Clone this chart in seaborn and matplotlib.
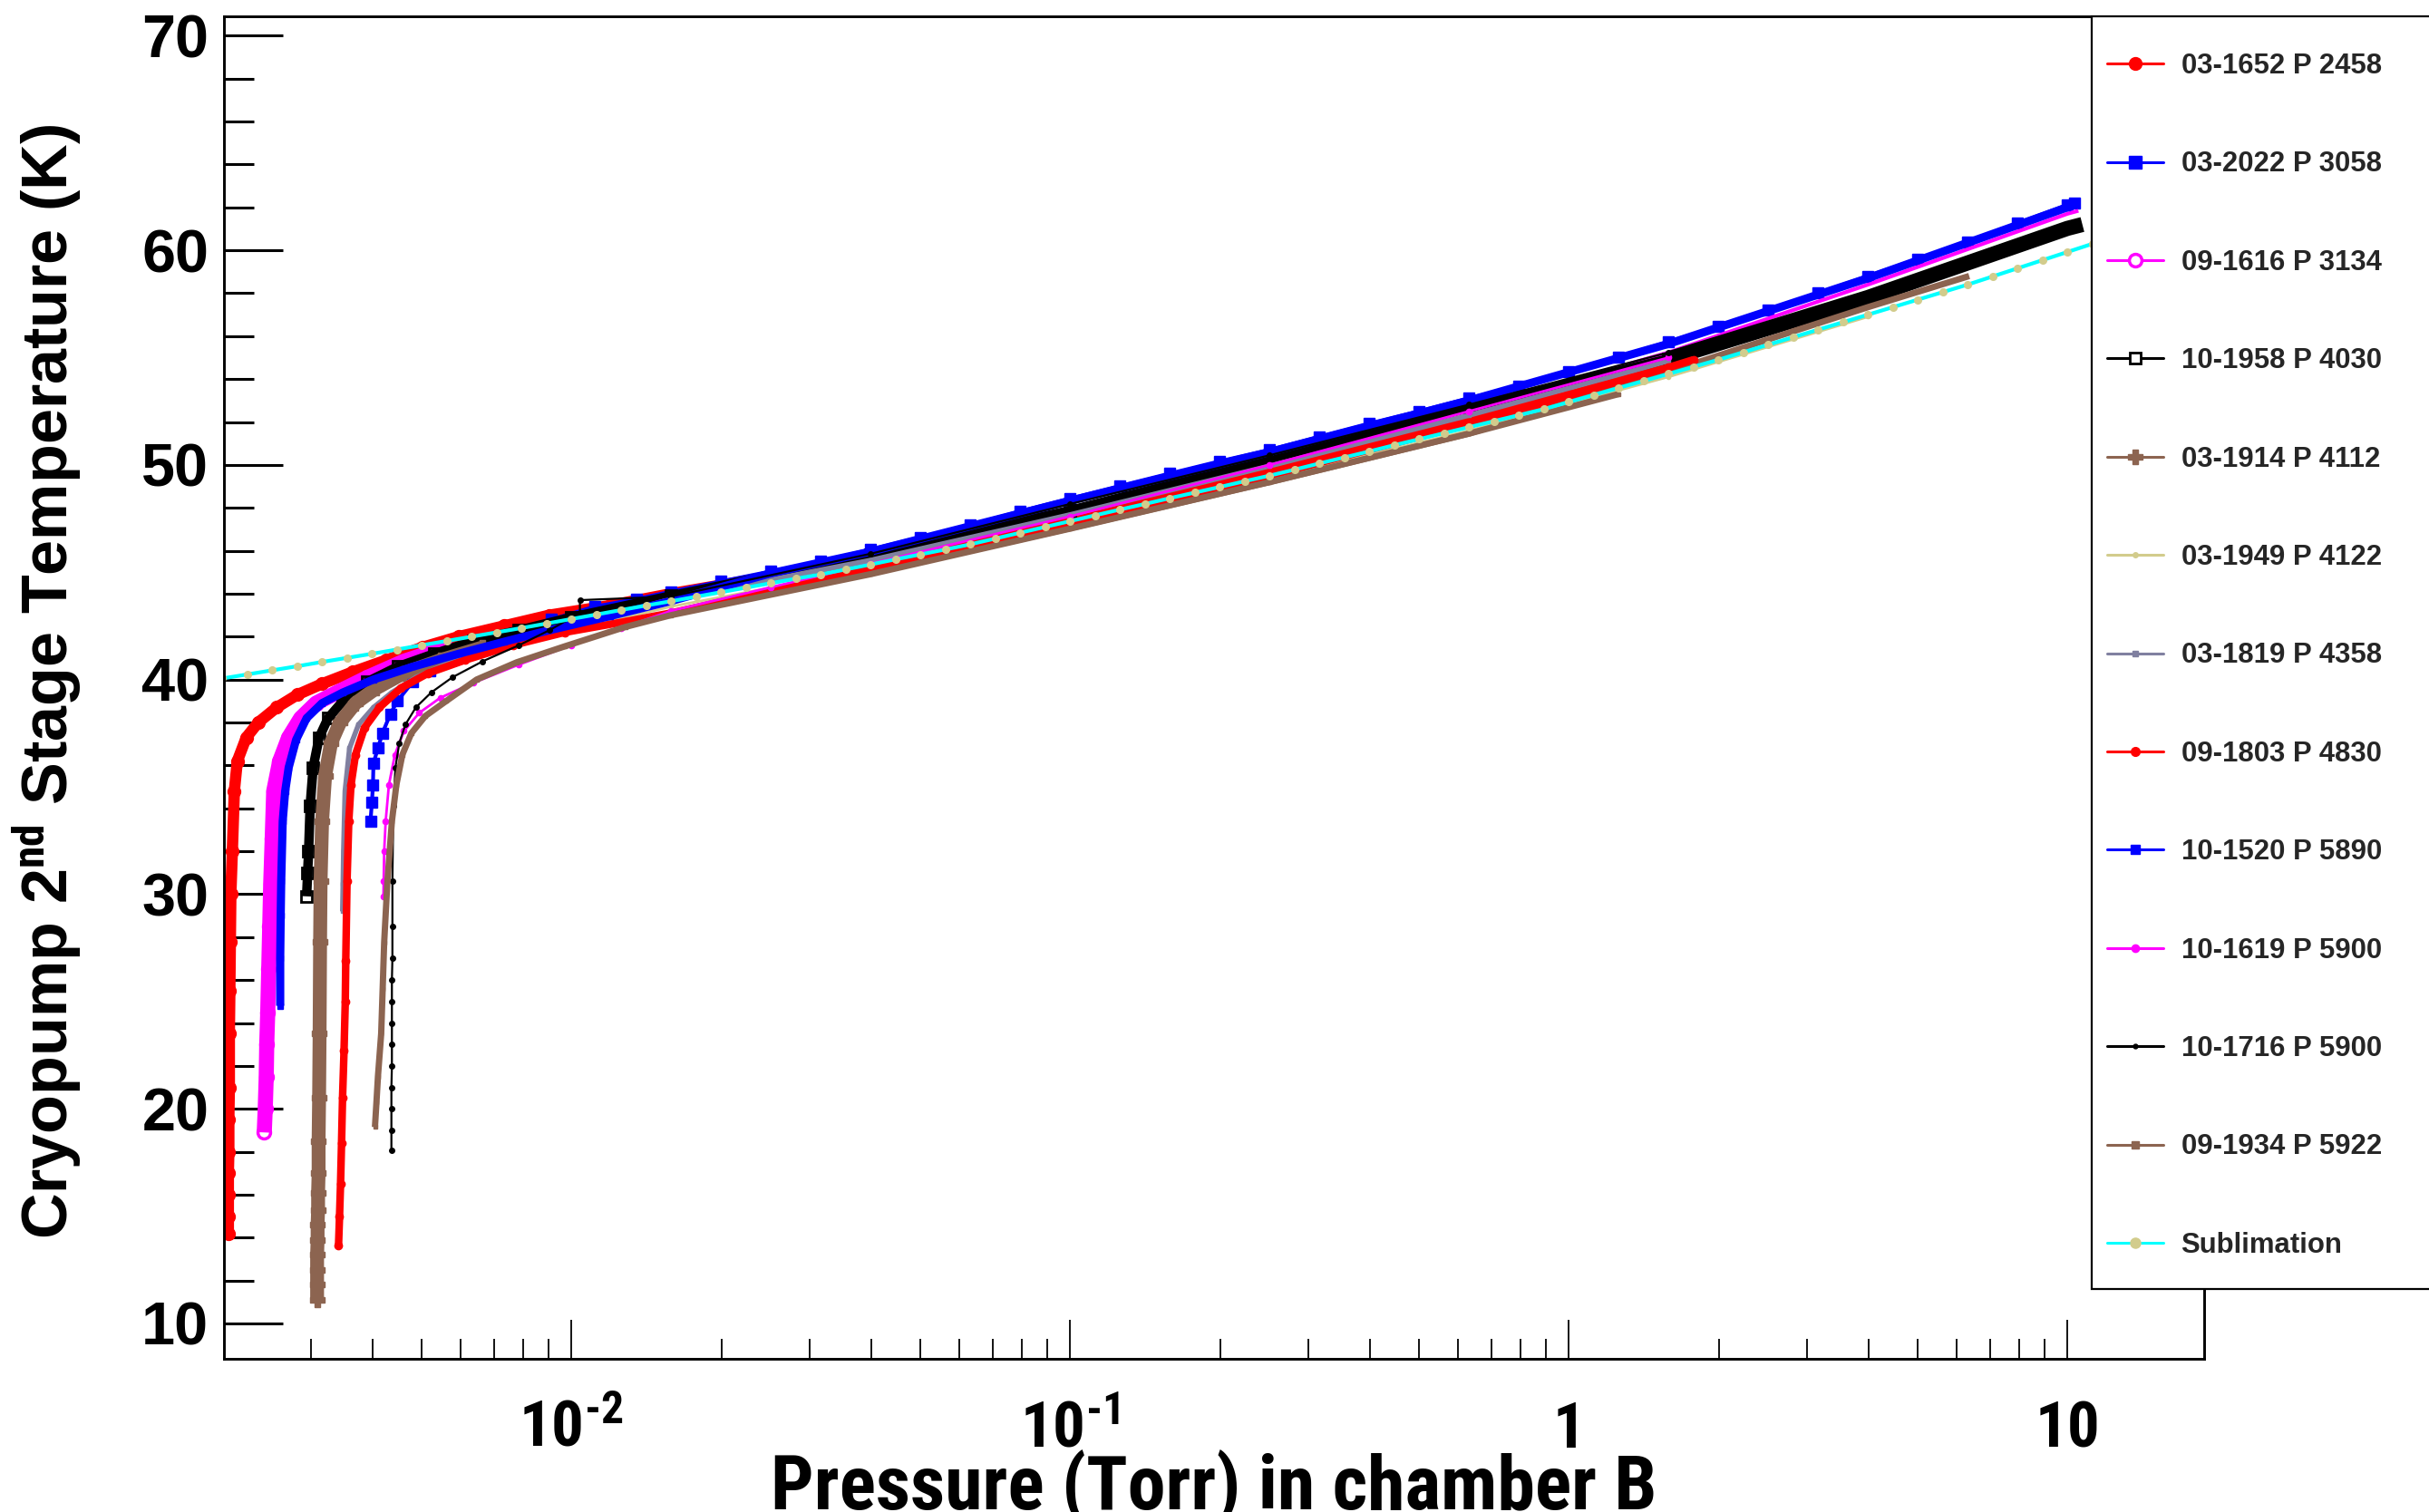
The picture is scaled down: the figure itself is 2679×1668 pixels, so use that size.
import numpy as np
import pandas as pd
import matplotlib
matplotlib.use("Agg")
import matplotlib.pyplot as plt
import seaborn as sns
from matplotlib import font_manager
from matplotlib.font_manager import FontProperties
from matplotlib.lines import Line2D
from matplotlib.patches import Rectangle
from matplotlib.ticker import FixedLocator, FixedFormatter, LogLocator, MultipleLocator, NullFormatter

# ------------------------------------------------------------------ data
# pressure is stored as log10(P / Torr); temperature in K
LABELS = ["03-1652 P 2458", "03-2022 P 3058", "09-1616 P 3134", "10-1958 P 4030",
          "03-1914 P 4112", "03-1949 P 4122", "03-1819 P 4358", "09-1803 P 4830",
          "10-1520 P 5890", "10-1619 P 5900", "10-1716 P 5900", "09-1934 P 5922",
          "Sublimation"]

LOGP_03_1652 = [-2.688, -2.688, -2.688, -2.688, -2.687, -2.687, -2.686, -2.686, -2.685, -2.684,
                -2.683, -2.680, -2.676, -2.670, -2.652, -2.628, -2.591, -2.549, -2.500, -2.439,
                -2.372, -2.299, -2.226, -2.135, -2.044, -1.922, -1.800, -1.6, -1.4, -1.2,
                -1.0, -0.8, -0.6, -0.4, -0.2, 0.0, 0.2]
T_03_1652 = [14.2, 15.0, 16.0, 17.0, 18.0, 19.5, 21.0, 23.5, 25.5, 27.8,
             30.0, 32.0, 34.8, 36.2, 37.3, 38.0, 38.7, 39.3, 39.8, 40.35,
             40.9, 41.5, 42.0, 42.5, 43.0, 43.45, 44.0, 44.8, 45.66, 46.6,
             47.68, 48.75, 49.8, 50.93, 52.0, 53.2, 54.5]

LOGP_03_2022 = [-2.403, -2.400, -2.398, -2.397, -2.388, -2.379, -2.363, -2.349, -2.318, -2.284,
                -2.242, -2.175, -2.123, -2.040, -1.953, -1.870, -1.800, -1.7, -1.6, -1.5,
                -1.4, -1.3, -1.2, -1.1, -1.0, -0.9, -0.8, -0.7, -0.6, -0.5,
                -0.4, -0.3, -0.2, -0.1, 0.0, 0.1, 0.2, 0.3, 0.4, 0.5,
                0.6, 0.7, 0.8, 0.9, 1.0, 1.015]
T_03_2022 = [33.4, 34.3, 35.1, 36.1, 36.8, 37.5, 38.4, 39.0, 39.9, 40.4,
             40.9, 41.5, 42.0, 42.8, 43.4, 43.75, 44.1, 44.57, 45.04, 45.5,
             46.06, 46.63, 47.2, 47.84, 48.43, 49.02, 49.6, 50.17, 50.7, 51.32,
             51.93, 52.5, 53.11, 53.67, 54.33, 55.04, 55.74, 56.45, 57.2, 58.0,
             58.8, 59.6, 60.4, 61.26, 62.12, 62.2]

LOGP_09_1616 = [-2.616, -2.614, -2.612, -2.611, -2.609, -2.607, -2.605, -2.603, -2.600, -2.597,
                -2.585, -2.567, -2.543, -2.512, -2.470, -2.409, -2.336, -2.251, -2.150, -2.000,
                -1.8, -1.4, -1.0, -0.6, -0.2, 0.2, 0.6, 1.0, 1.022]
T_09_1616 = [18.9, 20.0, 21.5, 23.0, 24.5, 26.5, 28.5, 30.5, 32.6, 34.8,
             36.2, 37.3, 38.2, 38.9, 39.4, 40.1, 40.85, 41.5, 42.15, 42.9,
             43.85, 45.66, 47.78, 50.1, 52.56, 55.24, 58.4, 61.7, 61.84]

LOGP_10_1958 = [-2.531, -2.529, -2.527, -2.524, -2.518, -2.506, -2.488, -2.458, -2.409, -2.348,
                -2.275, -2.196, -2.105, -2.000, -1.8, -1.4, -1.0, -0.6, -0.2, 0.2,
                0.6, 1.0, 1.030]
T_10_1958 = [29.9, 31.0, 32.0, 34.1, 35.9, 37.3, 38.2, 39.0, 39.9, 40.6,
             41.2, 41.8, 42.3, 42.9, 43.9, 45.81, 47.88, 50.25, 52.66, 54.94,
             57.8, 61.02, 61.2]

LOGP_03_1914 = [-2.510, -2.510, -2.510, -2.510, -2.509, -2.509, -2.508, -2.508, -2.507, -2.507,
                -2.506, -2.505, -2.504, -2.503, -2.500, -2.494, -2.482, -2.464, -2.433, -2.391,
                -2.336, -2.263, -2.178, -2.050, -1.8, -1.4, -1.0, -0.6, -0.2, 0.2,
                0.6, 0.803]
T_03_1914 = [11.1, 11.8, 12.5, 13.2, 13.9, 14.6, 15.3, 16.1, 17.0, 18.5,
             20.5, 23.5, 27.8, 30.6, 33.4, 35.5, 37.05, 38.0, 38.9, 39.6,
             40.3, 40.9, 41.5, 42.1, 43.05, 44.96, 47.05, 49.2, 51.46, 54.34,
             57.35, 58.8]

LOGP_03_1949 = [-2.450, -2.447, -2.442, -2.433, -2.415, -2.385, -2.342, -2.287, -2.214, -2.117,
                -2.0, -1.8, -1.4, -1.0, -0.6, -0.2, 0.2, 0.6]
T_03_1949 = [30.6, 33.4, 35.1, 36.5, 37.75, 38.7, 39.6, 40.3, 40.9, 41.6,
             42.3, 43.4, 45.16, 47.2, 49.35, 51.6, 54.1, 56.9]

LOGP_03_1819 = [-2.459, -2.458, -2.457, -2.454, -2.445, -2.427, -2.397, -2.360, -2.312, -2.239,
                -2.147, -2.044, -1.9, -1.8, -1.4, -1.0, -0.6, -0.2, 0.2]
T_03_1819 = [29.2, 30.5, 32.0, 34.8, 36.8, 37.9, 38.7, 39.4, 40.1, 40.85,
             41.5, 42.3, 43.1, 43.75, 45.56, 47.68, 49.95, 52.31, 54.84]

LOGP_09_1803 = [-2.467, -2.465, -2.463, -2.461, -2.459, -2.456, -2.4535, -2.4525, -2.450, -2.4465,
                -2.442, -2.433, -2.415, -2.385, -2.342, -2.287, -2.214, -2.117, -2.013, -1.892,
                -1.8, -1.4, -1.0, -0.6, -0.2, 0.2, 0.25]
T_09_1803 = [13.65, 15.0, 16.5, 18.4, 20.5, 22.7, 25.0, 26.9, 30.6, 33.4,
             35.1, 36.5, 37.75, 38.7, 39.6, 40.3, 40.9, 41.6, 42.2, 42.7,
             43.1, 45.16, 47.28, 49.5, 51.91, 54.54, 54.9]

LOGP_10_1520 = [-2.584, -2.584, -2.583, -2.582, -2.579, -2.574, -2.567, -2.552, -2.531, -2.500,
                -2.458, -2.397, -2.318, -2.226, -2.135, -2.044, -1.922, -1.8, -1.6, -1.4,
                -1.0, -0.6, -0.2, 0.2, 0.6, 1.0]
T_10_1520 = [24.8, 27.0, 29.0, 30.6, 33.4, 34.8, 35.9, 37.2, 38.2, 38.9,
             39.4, 40.0, 40.6, 41.2, 41.76, 42.3, 42.96, 43.66, 44.95, 45.96,
             48.33, 50.6, 53.0, 55.64, 58.7, 62.0]

LOGP_10_1619 = [-2.377, -2.3765, -2.3755, -2.3725, -2.366, -2.354, -2.336, -2.305, -2.263, -2.196,
                -2.105, -2.0, -1.9, -1.8, -1.6, -1.4, -1.0, -0.6, -0.2, 0.2]
T_10_1619 = [29.9, 30.6, 32.0, 33.4, 35.1, 36.5, 37.6, 38.45, 39.15, 39.85,
             40.7, 41.6, 42.4, 43.2, 44.3, 45.4, 47.6, 50.0, 52.5, 55.0]

LOGP_10_1716 = [-2.361, -2.361, -2.361, -2.361, -2.360, -2.360, -2.360, -2.360, -2.360, -2.359,
                -2.359, -2.359, -2.357, -2.353, -2.345, -2.333, -2.312, -2.281, -2.239, -2.178,
                -2.105, -2.044, -1.983, -1.983, -1.8, -1.4, -1.0, -0.6, -0.2, 0.2,
                0.6, 1.0]
T_10_1716 = [18.05, 19.0, 20.0, 21.0, 22.0, 23.0, 24.0, 25.0, 26.0, 27.0,
             28.5, 30.6, 34.1, 35.9, 37.05, 37.9, 38.7, 39.4, 40.1, 40.85,
             41.6, 42.3, 43.1, 43.7, 43.87, 45.86, 48.18, 50.45, 52.81, 55.24,
             57.9, 60.95]

LOGP_09_1934 = [-2.394, -2.391, -2.388, -2.3815, -2.3785, -2.3755, -2.369, -2.360, -2.351, -2.339,
                -2.321, -2.293, -2.251, -2.190, -2.110, -2.013, -1.892, -1.8, -1.4, -1.0,
                -0.6, -0.2, 0.1]
T_09_1934 = [19.15, 20.3, 21.5, 23.5, 25.6, 27.75, 30.6, 33.4, 35.1, 36.5,
             37.5, 38.3, 39.0, 40.0, 40.8, 41.55, 42.45, 43.0, 44.91, 47.03,
             49.2, 51.46, 53.3]

LOGP_SUB = [-2.70, -2.65, -2.60, -2.55, -2.50, -2.45, -2.40, -2.35, -2.30, -2.25,
            -2.20, -2.15, -2.10, -2.05, -2.00, -1.95, -1.90, -1.85, -1.80, -1.75,
            -1.70, -1.65, -1.60, -1.55, -1.50, -1.45, -1.40, -1.35, -1.30, -1.25,
            -1.20, -1.15, -1.10, -1.05, -1.00, -0.95, -0.90, -0.85, -0.80, -0.75,
            -0.70, -0.65, -0.60, -0.55, -0.50, -0.45, -0.40, -0.35, -0.30, -0.25,
            -0.20, -0.15, -0.10, -0.05, 0.00, 0.05, 0.10, 0.15, 0.20, 0.25,
            0.30, 0.35, 0.40, 0.45, 0.50, 0.55, 0.60, 0.65, 0.70, 0.75,
            0.80, 0.85, 0.90, 0.95, 1.00, 1.05, 1.10, 1.15, 1.20, 1.25, 1.30]
T_SUB = [40.05, 40.24, 40.43, 40.62, 40.82, 41.01, 41.20, 41.40, 41.60, 41.80,
         42.00, 42.20, 42.40, 42.61, 42.82, 43.03, 43.24, 43.45, 43.65, 43.86,
         44.07, 44.28, 44.49, 44.70, 44.90, 45.13, 45.36, 45.60, 45.83, 46.06,
         46.30, 46.57, 46.84, 47.11, 47.38, 47.65, 47.92, 48.18, 48.45, 48.71,
         48.97, 49.24, 49.50, 49.78, 50.07, 50.35, 50.63, 50.92, 51.20, 51.48,
         51.76, 52.04, 52.32, 52.60, 52.93, 53.26, 53.59, 53.91, 54.24, 54.57,
         54.90, 55.25, 55.60, 55.95, 56.30, 56.65, 57.00, 57.35, 57.70, 58.05,
         58.40, 58.78, 59.16, 59.54, 59.92, 60.30, 60.68, 61.06, 61.44, 61.82, 62.20]

XTICK_VALUES = [0.01, 0.1, 1, 10]
XTICK_LABELS = [r"$10^{\text{-2}}$", r"$10^{\text{-1}}$", "1", "10"]
YTICK_VALUES = [10, 20, 30, 40, 50, 60, 70]

SERIES_DATA = [(LOGP_03_1652, T_03_1652), (LOGP_03_2022, T_03_2022), (LOGP_09_1616, T_09_1616),
               (LOGP_10_1958, T_10_1958), (LOGP_03_1914, T_03_1914), (LOGP_03_1949, T_03_1949),
               (LOGP_03_1819, T_03_1819), (LOGP_09_1803, T_09_1803), (LOGP_10_1520, T_10_1520),
               (LOGP_10_1619, T_10_1619), (LOGP_10_1716, T_10_1716), (LOGP_09_1934, T_09_1934),
               (LOGP_SUB, T_SUB)]

# ------------------------------------------------------------------ styles
RED, BLUE, MAG, BLK = "#FF0000", "#0000FF", "#FF00FF", "#000000"
BROWN, KHAKI, GRAY, CYAN = "#8C6450", "#D2CC8C", "#8080A0", "#00FFFF"

STYLES = [
    dict(color=RED, lw=9, marker="o", ms=10),
    dict(color=BLUE, lw=3, marker="s", ms=9),
    dict(color=MAG, lw=12, lw2=3, split=-2.30, marker="o", ms=10, mfc="none", mew=2.5, mark2=False),
    dict(color=BLK, lw=7.5, lw2=12, split=0.0, marker="s", ms=8, mfc="none", mew=2, mark2=False),
    dict(color=BROWN, lw=11, lw2=5, split=-2.2, marker="P", ms=11, mark2=False),
    dict(color=KHAKI, lw=2, marker="o", ms=3),
    dict(color=GRAY, lw=4, marker="s", ms=3),
    dict(color=RED, lw=6, marker="o", ms=6),
    dict(color=BLUE, lw=6.5, marker="s", ms=5),
    dict(color=MAG, lw=2, marker="o", ms=4.5),
    dict(color=BLK, lw=1.6, marker="o", ms=4),
    dict(color=BROWN, lw=5, marker="s", ms=3),
    dict(color=CYAN, lw=3, marker="o", ms=5.5, mfc=KHAKI, mec=KHAKI),
]
LEGEND_MARK = [
    dict(marker="o", ms=10), dict(marker="s", ms=10),
    dict(marker="o", ms=10, mfc="white", mew=2.5), dict(marker="s", ms=9, mfc="white", mew=2),
    dict(marker="P", ms=11), dict(marker="o", ms=4), dict(marker="s", ms=5),
    dict(marker="o", ms=7), dict(marker="s", ms=7), dict(marker="o", ms=6),
    dict(marker="o", ms=3.5), dict(marker="s", ms=6), dict(marker="o", ms=8, mfc=KHAKI, mec=KHAKI),
]

# ------------------------------------------------------------------ fonts / theme
sns.set_theme(style="white")


def _wnum(w):
    if isinstance(w, (int, float)):
        return int(w)
    return {"bold": 700, "heavy": 800, "black": 900, "semibold": 600, "demibold": 600,
            "extra bold": 800, "normal": 400, "regular": 400, "medium": 500}.get(str(w).lower(), 400)


def find_narrow_bold():
    cands = []
    for f in font_manager.fontManager.ttflist:
        nm = f.name
        if any(b in nm for b in ("CJK", "Mono", "Serif", "Math", "Symbol")):
            continue
        st = f.stretch
        narrow_stretch = (isinstance(st, (int, float)) and st < 500) or \
            (str(st) in ("condensed", "semi-condensed", "extra-condensed", "ultra-condensed"))
        if not (("Narrow" in nm) or ("Condensed" in nm) or narrow_stretch):
            continue
        w = _wnum(f.weight)
        if w < 600 or w > 800:
            continue
        if "Liberation" in nm:
            pri = 0
        elif "Arial" in nm or "Helvet" in nm or "Nimbus" in nm:
            pri = 1
        elif "Roboto" in nm:
            pri = 2
        elif "DejaVu" in nm:
            pri = 3
        else:
            pri = 4
        cands.append((pri, abs(w - 700), f.fname, nm, str(st)))
    cands.sort()
    return cands[0] if cands else None


NB = find_narrow_bold()
plt.rcParams["font.family"] = ["Liberation Sans", "DejaVu Sans"]
plt.rcParams["font.weight"] = "bold"
plt.rcParams["mathtext.fontset"] = "custom"
if NB is not None:
    spec = NB[3] + ":weight=bold"
    if NB[4] not in ("normal", "400", "500"):
        spec += ":stretch=" + NB[4]
    XFP = lambda size: FontProperties(fname=NB[2], size=size)
    XL_SIZE, XT_SIZE = 60.5, 51
else:
    spec = "Liberation Sans:weight=bold"
    XFP = lambda size: FontProperties(family="Liberation Sans", weight="bold", size=size)
    XL_SIZE, XT_SIZE = 50, 44
try:
    FontProperties(spec)
except Exception:
    spec = NB[3] + ":weight=bold" if NB is not None else "Liberation Sans:weight=bold"
plt.rcParams["mathtext.rm"] = spec
plt.rcParams["mathtext.it"] = spec
plt.rcParams["mathtext.bf"] = spec

W, H = 2679, 1668
fig = plt.figure(figsize=(W / 100, H / 100), dpi=100, facecolor="white")
AX_L, AX_R, AX_T, AX_B = 247, 2431, 18, 1499.3
ax = fig.add_axes([AX_L / W, 1 - AX_B / H, (AX_R - AX_L) / W, (AX_B - AX_T) / H])
ax.set_facecolor("white")
ax.set_xscale("log")


def draw(logp, temp, st):
    lp = np.asarray(logp, float)
    t = np.asarray(temp, float)
    assert lp.size == t.size
    df = pd.DataFrame({"P": 10 ** lp, "T": t})
    base = dict(color=st["color"], marker=st.get("marker"), markersize=st.get("ms", 4),
                markerfacecolor=st.get("mfc", st["color"]), markeredgecolor=st.get("mec", st["color"]),
                markeredgewidth=st.get("mew", 1))
    if "split" in st:
        k = int(np.argmax(lp >= st["split"]))
        parts = [(df.iloc[:k + 1], st["lw"], True), (df.iloc[k:], st["lw2"], st.get("mark2", True))]
    else:
        parts = [(df, st["lw"], True)]
    for sub, lw, mk in parts:
        kw = dict(base)
        if not mk:
            kw["marker"] = None
        sns.lineplot(data=sub, x="P", y="T", sort=False, estimator=None, ax=ax,
                     linewidth=lw, legend=False, solid_capstyle="butt", **kw)


for (lp, t), st in zip(SERIES_DATA, STYLES):
    draw(lp, t, st)

# ------------------------------------------------------------------ axes
ax.set_xlim(0.00201, 18.8)
ax.set_ylim(8.34, 70.9)
ax.xaxis.set_major_locator(FixedLocator(XTICK_VALUES))
ax.xaxis.set_major_formatter(FixedFormatter(XTICK_LABELS))
ax.xaxis.set_minor_locator(LogLocator(base=10, subs=np.arange(2, 10), numticks=100))
ax.xaxis.set_minor_formatter(NullFormatter())
ax.yaxis.set_major_locator(FixedLocator(YTICK_VALUES))
ax.yaxis.set_minor_locator(MultipleLocator(2))

for s in ax.spines.values():
    s.set_color("black")
    s.set_linewidth(2.1)
    s.set_visible(True)

ax.tick_params(axis="x", which="both", direction="in", bottom=True, top=False, color="black",
               width=1.3, labelsize=XT_SIZE, pad=70, labelcolor="black")
ax.tick_params(axis="x", which="major", length=31)
ax.tick_params(axis="x", which="minor", length=16)
ax.tick_params(axis="y", which="both", direction="in", left=True, right=False, color="black",
               width=2.2, labelsize=48, pad=12, labelcolor="black")
ax.tick_params(axis="y", which="major", length=47)
ax.tick_params(axis="y", which="minor", length=24)
for lbl in ax.get_xticklabels():
    lbl.set_fontproperties(XFP(XT_SIZE))
    lbl.set_verticalalignment("baseline")
for lbl in ax.get_yticklabels():
    lbl.set_fontweight("bold")
ax.grid(False)

ax.set_xlabel("Pressure (Torr) in chamber B", fontproperties=XFP(XL_SIZE), color="black")
ax.xaxis.set_label_coords(0.5, (AX_B - 1665) / (AX_B - AX_T))
ax.xaxis.label.set_verticalalignment("baseline")

ax.set_ylabel(r"Cryopump 2$^{nd}$ Stage Temperature (K)", fontsize=50.5, fontweight="bold", color="black")
ax.yaxis.set_label_coords((51 - AX_L) / (AX_R - AX_L), (AX_B - 752) / (AX_B - AX_T))
ax.yaxis.label.set_verticalalignment("center")

# ------------------------------------------------------------------ legend
box = Rectangle((2307 / W, 1 - 1422 / H), 0.2, (1422 - 18) / H, transform=fig.transFigure,
                facecolor="white", edgecolor="black", linewidth=1.6, zorder=4, clip_on=False)
fig.patches.append(box)

handles = []
for st, lm in zip(STYLES, LEGEND_MARK):
    c = st["color"]
    handles.append(Line2D([], [], color=c, lw=2.2, marker=lm["marker"], markersize=lm["ms"],
                          markerfacecolor=lm.get("mfc", c), markeredgecolor=lm.get("mec", c),
                          markeredgewidth=lm.get("mew", 1)))
leg = fig.legend(handles, LABELS, loc="upper left", bbox_to_anchor=(2324 / W, 1 - 58 / H),
                 frameon=False, borderpad=0, borderaxespad=0, handlelength=2.0,
                 handletextpad=0.62, labelspacing=2.52,
                 prop=FontProperties(family="Liberation Sans", weight="bold", size=22.4))
leg.set_zorder(6)

fig.savefig("out.png", dpi=100, facecolor="white")
